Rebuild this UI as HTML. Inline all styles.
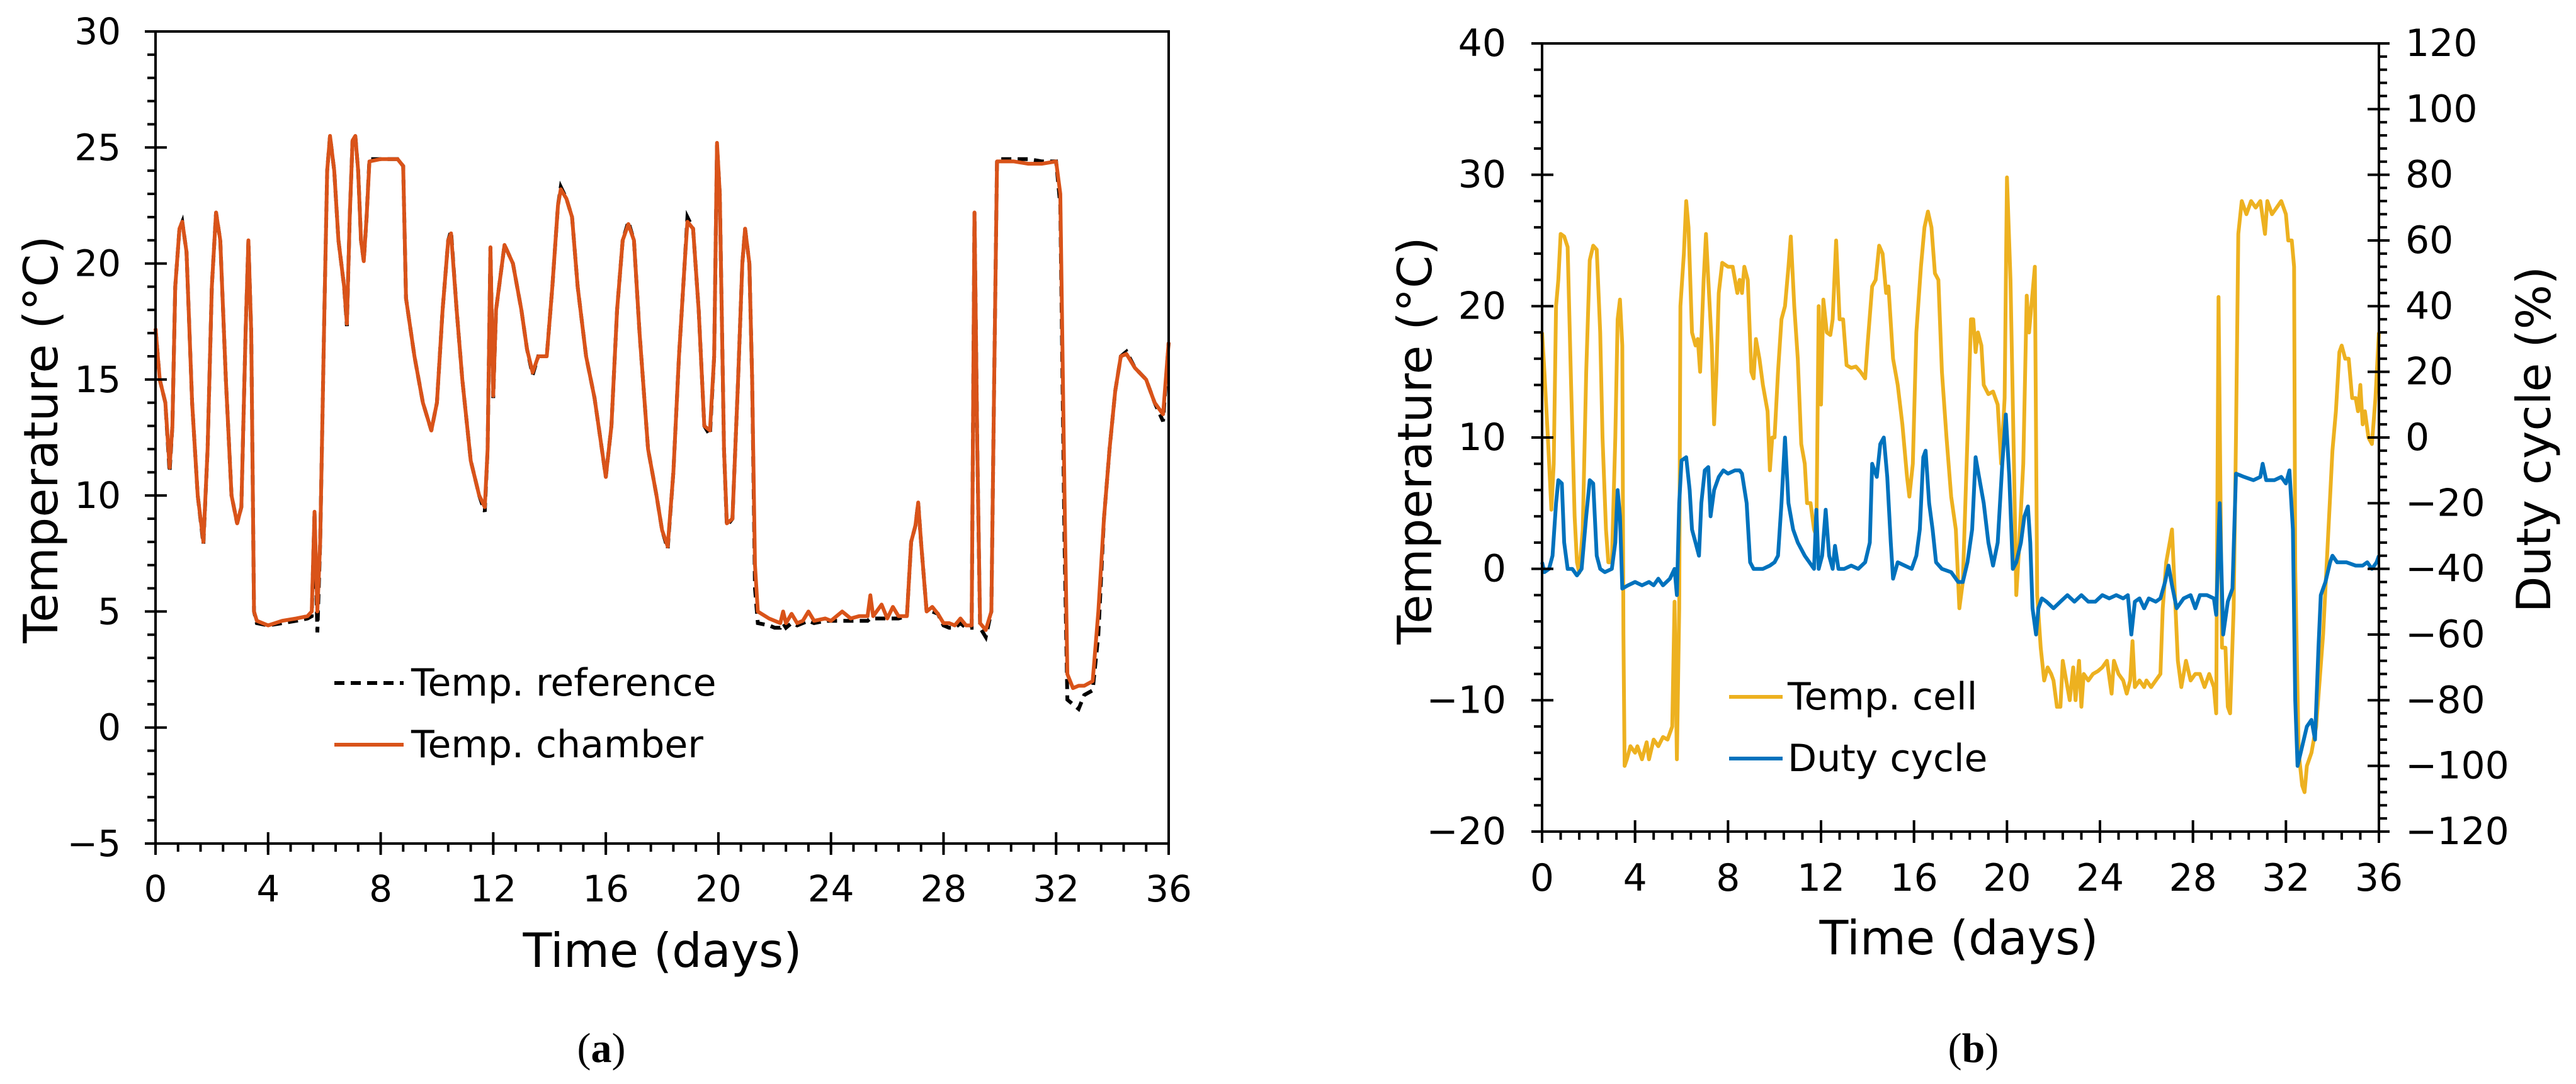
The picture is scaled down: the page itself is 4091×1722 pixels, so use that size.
<!DOCTYPE html>
<html><head><meta charset="utf-8"><style>
html,body{margin:0;padding:0;background:#fff;}
svg{display:block;font-family:"DejaVu Sans","Liberation Sans",sans-serif;}
</style></head><body>
<svg id="fig" width="4091" height="1722" viewBox="0 0 4091 1722" xmlns="http://www.w3.org/2000/svg">
<rect width="4091" height="1722" fill="#fff"/>
<g id="pa"></g>
<g id="pb"></g>
<text x="65" y="698" font-size="75" text-anchor="middle" dominant-baseline="central" transform="rotate(-90 65 698)">Temperature (°C)</text>
<text x="1052" y="1510" font-size="75" text-anchor="middle" dominant-baseline="central">Time (days)</text>
<text x="955" y="1665" font-size="66" text-anchor="middle" dominant-baseline="central" font-family="Liberation Serif, serif">(<tspan font-weight="bold">a</tspan>)</text>
<text x="2247" y="700" font-size="75" text-anchor="middle" dominant-baseline="central" transform="rotate(-90 2247 700)">Temperature (°C)</text>
<text x="4024" y="698" font-size="75" text-anchor="middle" dominant-baseline="central" transform="rotate(-90 4024 698)">Duty cycle (%)</text>
<text x="3111" y="1490" font-size="75" text-anchor="middle" dominant-baseline="central">Time (days)</text>
<text x="3134" y="1665" font-size="66" text-anchor="middle" dominant-baseline="central" font-family="Liberation Serif, serif">(<tspan font-weight="bold">b</tspan>)</text>
</svg>
<script>
const xTicks=[0,4,8,12,16,20,24,28,32,36];
const yTicksA=[-5,0,5,10,15,20,25,30];
const yTicksB=[-20,-10,0,10,20,30,40];
const y2TicksB=[-120,-100,-80,-60,-40,-20,0,20,40,60,80,100,120];
const chamberT=[0,0.15,0.35,0.5,0.6,0.7,0.85,0.95,1.1,1.3,1.5,1.7,1.85,2.0,2.15,2.3,2.5,2.7,2.9,3.05,3.2,3.3,3.4,3.5,3.6,4.0,4.5,5.0,5.4,5.55,5.65,5.75,5.85,6.0,6.1,6.2,6.35,6.5,6.7,6.8,6.9,7.0,7.1,7.2,7.3,7.4,7.5,7.6,8.0,8.6,8.8,8.9,9.2,9.5,9.8,10.0,10.2,10.4,10.5,10.7,10.9,11.2,11.5,11.7,11.8,11.9,12.0,12.1,12.4,12.7,13.0,13.2,13.4,13.6,13.9,14.1,14.3,14.4,14.6,14.8,15.0,15.3,15.6,15.8,16.0,16.2,16.4,16.6,16.8,17.0,17.2,17.5,17.8,18.0,18.2,18.4,18.6,18.8,18.9,19.1,19.3,19.5,19.7,19.85,19.95,20.05,20.2,20.3,20.5,20.7,20.85,20.95,21.1,21.2,21.3,21.4,21.8,22.0,22.2,22.3,22.4,22.6,22.8,23.0,23.2,23.4,23.8,24.0,24.4,24.7,25.0,25.3,25.4,25.5,25.8,26.0,26.2,26.4,26.7,26.85,27.0,27.1,27.2,27.4,27.6,27.8,28.0,28.2,28.4,28.6,28.8,29.0,29.1,29.2,29.3,29.5,29.7,29.8,29.9,30.5,31,31.5,32.0,32.15,32.3,32.4,32.6,32.8,33.0,33.3,33.5,33.7,33.9,34.1,34.3,34.5,34.8,35.2,35.5,35.8,36];
const chamberV=[17.2,15,14,11.2,13,19,21.5,21.8,20.5,14,10,8,12,19,22.2,21,15,10,8.8,9.5,17,21,17,5,4.6,4.4,4.6,4.7,4.8,5,9.3,5,8,18,24,25.5,24,21,19,17.4,22,25.3,25.5,24,21,20.1,22,24.4,24.5,24.5,24.2,18.5,16,14,12.8,14,18,21,21.3,18,15,11.5,10,9.5,12,20.7,14.3,18,20.8,20,18,16.3,15.3,16,16,19,22.5,23.2,22.8,22,19,16,14.2,12.5,10.8,13,18,21,21.7,21,17,12,10,8.5,7.8,11,16,20,21.8,21.5,18,13,12.8,16,25.2,23,12,8.8,9,15,20,21.5,20,15,7,5,4.7,4.6,4.5,5,4.5,4.9,4.5,4.6,5,4.6,4.7,4.6,5,4.7,4.8,4.8,5.7,4.8,5.3,4.7,5.2,4.8,4.8,8,8.7,9.7,8,5,5.2,4.9,4.5,4.5,4.4,4.7,4.4,4.4,22.2,12,4.5,4.2,5,15,24.4,24.4,24.3,24.3,24.4,23,10,2.3,1.7,1.8,1.8,2,5,9,12,14.5,16,16.1,15.5,15,14,13.5,16.6];
const refV=[17.2,15,14,11,13,19,21.5,21.8,20.5,14,10,7.9,12,19,22.2,21,15,10,8.8,9.5,17,21,17,5,4.5,4.4,4.5,4.6,4.7,4.8,9.3,4.1,8,18,24,25.5,24,21,19,17.3,22,25.3,25.5,24,21,20.1,22,24.5,24.5,24.5,24.2,18.5,16,14,12.8,14,18,21,21.4,18,15,11.5,10,9.3,12,20.7,14.2,18,20.8,20,18,16.3,15.2,16,16,19,22.5,23.3,22.8,22,19,16,14.2,12.5,10.8,13,18,21,21.8,21,17,12,10,8.5,7.7,11,16,20,22,21.5,18,13,12.6,16,25.1,23,12,8.7,9,15,20,21.5,20,15,6,4.5,4.4,4.3,4.3,4.5,4.3,4.5,4.4,4.5,4.6,4.5,4.6,4.6,4.6,4.6,4.6,4.6,4.7,4.7,4.7,4.7,4.7,4.7,4.8,8,8.7,9.7,8,5,5,4.9,4.4,4.3,4.3,4.5,4.3,4.3,22.2,12,4.3,3.9,5,15,24.5,24.5,24.5,24.4,24.4,22.5,8,1.2,1.0,0.8,1.4,1.6,4,9,12,14.5,16,16.2,15.5,15,14,13.2,16.6];
const cellT=[0,0.1,0.25,0.4,0.5,0.6,0.7,0.8,0.95,1.1,1.25,1.4,1.5,1.6,1.75,1.9,2.05,2.2,2.35,2.5,2.6,2.75,2.85,3.0,3.15,3.25,3.35,3.45,3.5,3.55,3.65,3.8,4.0,4.1,4.3,4.5,4.6,4.8,5.0,5.2,5.4,5.6,5.7,5.8,5.9,5.95,6.1,6.2,6.3,6.45,6.6,6.7,6.8,6.95,7.05,7.15,7.3,7.4,7.5,7.6,7.75,8.0,8.2,8.4,8.5,8.6,8.7,8.85,9.0,9.1,9.2,9.35,9.5,9.7,9.8,9.9,10.0,10.15,10.3,10.45,10.6,10.7,10.85,11.0,11.15,11.3,11.4,11.55,11.7,11.8,11.9,12.0,12.1,12.25,12.4,12.5,12.65,12.8,12.95,13.1,13.3,13.5,13.7,13.9,14.0,14.2,14.35,14.5,14.65,14.8,14.9,15.1,15.3,15.5,15.7,15.8,15.95,16.1,16.3,16.45,16.6,16.75,16.9,17.05,17.2,17.4,17.6,17.8,17.95,18.1,18.3,18.45,18.55,18.65,18.75,18.9,19.0,19.2,19.4,19.6,19.75,19.9,20.0,20.15,20.3,20.4,20.5,20.7,20.85,20.95,21.1,21.2,21.3,21.45,21.6,21.75,21.9,22.0,22.15,22.3,22.4,22.5,22.7,22.85,22.95,23.1,23.2,23.3,23.5,23.7,23.9,24.1,24.3,24.5,24.6,24.8,25.0,25.15,25.3,25.4,25.5,25.7,25.9,26.0,26.2,26.4,26.6,26.7,26.85,27.0,27.1,27.2,27.35,27.5,27.7,27.9,28.1,28.3,28.5,28.7,28.9,29.0,29.1,29.25,29.4,29.5,29.6,29.75,29.85,29.95,30.1,30.3,30.5,30.7,30.9,31.1,31.2,31.4,31.6,31.8,32.0,32.1,32.25,32.35,32.4,32.55,32.7,32.8,32.9,33.1,33.3,33.6,33.8,34.0,34.15,34.3,34.4,34.55,34.7,34.85,35.0,35.1,35.2,35.3,35.4,35.55,35.7,35.85,36];
const cellV=[18,15,10,4.5,8,20,22,25.5,25.3,24.5,14,4,0.5,-0.3,3,15,23.5,24.6,24.3,18,10,3,0.5,0.5,10,19,20.5,17,-5,-15,-14.5,-13.5,-14,-13.5,-14.5,-13.2,-14.5,-13,-13.5,-12.8,-13,-12,-2.5,-14.5,-3,20,24,28,26,18,17,17.5,15,22,25.5,22,17,11,15,21,23.3,23,23,21,22,21,23,22,15,14.5,17.5,16,14,12,7.5,10,10,15,19,20,23,25.3,20,16,9.5,8,5,5,3,2.5,20,12.5,20.5,18,17.8,19,25,19,19,15.5,15.3,15.4,15,14.5,17,21.5,22,24.6,24,21,21.5,16,14,11,7,5.5,8,18,23,26,27.2,26,22.5,22,15,10,5.5,3,-3,-1,10,19,19,16.5,18,17,14,13.3,13.5,12.5,8,13,29.8,22,8,-2,1,8,20.8,18,21,23,-2,-6,-8.5,-7.5,-8,-8.5,-10.5,-10.5,-7,-8,-10,-7.5,-10,-7,-10.5,-8,-8.5,-8,-7.8,-7.5,-7,-9.5,-7,-8,-8.5,-9.5,-8.5,-5.5,-9,-8.5,-9,-8.5,-9,-8.5,-8,-3,0.5,2,3,-1,-7,-9,-7,-8.5,-8,-8,-9,-8,-9,-11,20.7,-6,-6,-10.5,-11,-3,10,25.5,28,27,28,27.5,28,25.5,28,27,27.5,28,27,25,25,23,0,-14,-16.5,-17,-15,-14,-12,-5,2,9,12,16.5,17,16,16,13,13,12,14,11,12,10,9.5,13,18];
const dutyT=[0,0.1,0.3,0.45,0.6,0.7,0.85,0.95,1.1,1.3,1.5,1.7,1.9,2.05,2.2,2.35,2.5,2.7,3.0,3.15,3.25,3.35,3.45,3.7,4.0,4.3,4.6,4.8,5.0,5.2,5.5,5.7,5.8,5.9,6.0,6.2,6.35,6.45,6.6,6.75,6.85,7.0,7.15,7.25,7.4,7.6,7.8,8.0,8.3,8.5,8.6,8.8,8.95,9.1,9.5,9.8,10.0,10.15,10.3,10.45,10.6,10.8,11.0,11.3,11.5,11.7,11.8,11.9,12.05,12.2,12.35,12.5,12.6,12.75,13.0,13.3,13.6,13.9,14.1,14.2,14.4,14.55,14.7,14.85,15.0,15.1,15.3,15.6,15.9,16.1,16.25,16.4,16.5,16.65,16.8,16.95,17.2,17.6,17.9,18.1,18.3,18.5,18.65,18.8,19.0,19.2,19.4,19.6,19.8,19.95,20.1,20.25,20.4,20.6,20.75,20.9,21.0,21.1,21.25,21.35,21.5,21.7,22.0,22.3,22.6,22.9,23.2,23.5,23.8,24.1,24.4,24.7,25.0,25.2,25.35,25.5,25.7,25.9,26.1,26.4,26.6,26.8,26.95,27.1,27.3,27.6,27.9,28.1,28.3,28.6,28.9,29.0,29.15,29.3,29.5,29.7,29.85,30.2,30.6,30.9,31.0,31.15,31.5,31.8,32.0,32.15,32.3,32.4,32.5,32.7,32.9,33.1,33.25,33.4,33.5,33.7,33.9,34.0,34.2,34.6,35.0,35.3,35.5,35.7,35.9,36];
const dutyV=[-38,-41,-40,-36,-20,-13,-14,-32,-40,-40,-42,-40,-24,-13,-14,-36,-40,-41,-40,-32,-16,-24,-46,-45,-44,-45,-44,-45,-43,-45,-43,-40,-48,-20,-7,-6,-16,-28,-32,-36,-20,-10,-9,-24,-16,-12,-10,-11,-10,-10,-11,-20,-38,-40,-40,-39,-38,-36,-20,0,-20,-28,-32,-36,-38,-40,-22,-40,-36,-22,-36,-40,-33,-40,-40,-39,-40,-38,-32,-8,-12,-2,0,-12,-32,-43,-38,-39,-40,-36,-28,-6,-4,-20,-28,-38,-40,-41,-44,-44,-38,-28,-6,-12,-20,-32,-39,-32,-8,7,-12,-40,-38,-32,-24,-21,-32,-52,-60,-52,-49,-50,-52,-50,-48,-50,-48,-50,-50,-48,-49,-48,-49,-48,-60,-50,-49,-52,-49,-50,-49,-44,-39,-45,-52,-49,-48,-52,-48,-48,-49,-54,-20,-60,-50,-46,-11,-12,-13,-12,-8,-13,-13,-12,-14,-10,-28,-80,-100,-94,-88,-86,-92,-64,-48,-44,-38,-36,-38,-38,-39,-39,-38,-40,-38,-36];

const NS='http://www.w3.org/2000/svg';
function mk(parent,tag,attrs){const e=document.createElementNS(NS,tag);for(const k in attrs)e.setAttribute(k,attrs[k]);parent.appendChild(e);return e;}
function scale(d0,d1,r0,r1){return v=>r0+(v-d0)*(r1-r0)/(d1-d0);}
function pathD(xs,ys,sx,sy){const n=Math.min(xs.length,ys.length);let s='';for(let i=0;i<n;i++)s+=(i?'L':'M')+sx(xs[i]).toFixed(1)+' '+sy(ys[i]).toFixed(1)+' ';return s;}

// Panel A
const A={l:247,r:1856,t:50,b:1340};
const axA=scale(0,36,A.l,A.r), ayA=scale(-5,30,A.b,A.t);
const pa=document.getElementById('pa');
let e;
e=mk(pa,'path',{d:pathD(chamberT,refV,axA,ayA),fill:'none',stroke:'#000',"stroke-width":6,"stroke-dasharray":"16 10"});


e=mk(pa,'path',{d:pathD(chamberT,chamberV,axA,ayA),fill:'none',stroke:'#D95319',"stroke-width":6,"stroke-linejoin":"round"});


e=mk(pa,'rect',{x:A.l,y:A.t,width:A.r-A.l,height:A.b-A.t,fill:'none',stroke:'#000',"stroke-width":4});


for(let v=-5;v<=30;v+=1){const y=ayA(v);const maj=(v%5===0);mk(pa,'line',{x1:A.l-(maj?17:13),x2:A.l+(maj?18:0),y1:y,y2:y,stroke:'#000',"stroke-width":4});}
yTicksA.forEach(v=>{e=mk(pa,'text',{x:A.l-55,y:ayA(v),"font-size":58,"text-anchor":"end","dominant-baseline":"central"});e.textContent=String(v).replace('-','\u2212');

});
for(let v=0;v<=36.01;v+=0.8){const x=axA(v);mk(pa,'line',{x1:x,x2:x,y1:A.b,y2:A.b+13,stroke:'#000',"stroke-width":4});}
xTicks.forEach(v=>{const x=axA(v);mk(pa,'line',{x1:x,x2:x,y1:A.b-18,y2:A.b+18,stroke:'#000',"stroke-width":4});
e=mk(pa,'text',{x:x,y:1412,"font-size":58,"text-anchor":"middle","dominant-baseline":"central"});e.textContent=v;

});
e=mk(pa,'line',{x1:531,x2:641,y1:1085,y2:1085,stroke:'#000',"stroke-width":6,"stroke-dasharray":"16 10"});


e=mk(pa,'text',{x:653,y:1085,"font-size":60,"dominant-baseline":"central"});e.textContent='Temp. reference';


e=mk(pa,'line',{x1:531,x2:641,y1:1183,y2:1183,stroke:'#D95319',"stroke-width":6});


e=mk(pa,'text',{x:653,y:1183,"font-size":60,"dominant-baseline":"central"});e.textContent='Temp. chamber';



// Panel B
const B={l:2449,r:3778,t:69,b:1321};
const axB=scale(0,36,B.l,B.r), ayB=scale(-20,40,B.b,B.t), ay2B=scale(-120,120,B.b,B.t);
const pb=document.getElementById('pb');
e=mk(pb,'path',{d:pathD(cellT,cellV,axB,ayB),fill:'none',stroke:'#EDB120',"stroke-width":6,"stroke-linejoin":"round"});


e=mk(pb,'path',{d:pathD(dutyT,dutyV,axB,ay2B),fill:'none',stroke:'#0072BD',"stroke-width":6,"stroke-linejoin":"round"});


e=mk(pb,'rect',{x:B.l,y:B.t,width:B.r-B.l,height:B.b-B.t,fill:'none',stroke:'#000',"stroke-width":4});


for(let v=-20;v<=40;v+=2){const y=ayB(v);const maj=(v%10===0);mk(pb,'line',{x1:B.l-(maj?17:13),x2:B.l+(maj?18:0),y1:y,y2:y,stroke:'#000',"stroke-width":4});}
yTicksB.forEach(v=>{e=mk(pb,'text',{x:B.l-57,y:ayB(v),"font-size":60,"text-anchor":"end","dominant-baseline":"central"});e.textContent=String(v).replace('-','\u2212');

});
for(let v=-120;v<=120;v+=4){const y=ay2B(v);const maj=(v%20===0);mk(pb,'line',{x1:B.r-(maj?18:0),x2:B.r+(maj?17:13),y1:y,y2:y,stroke:'#000',"stroke-width":4});}
y2TicksB.forEach(v=>{e=mk(pb,'text',{x:3820,y:ay2B(v),"font-size":60,"text-anchor":"start","dominant-baseline":"central"});e.textContent=String(v).replace('-','\u2212');

});
for(let v=0;v<=36.01;v+=0.8){const x=axB(v);mk(pb,'line',{x1:x,x2:x,y1:B.b,y2:B.b+13,stroke:'#000',"stroke-width":4});}
xTicks.forEach(v=>{const x=axB(v);mk(pb,'line',{x1:x,x2:x,y1:B.b-18,y2:B.b+18,stroke:'#000',"stroke-width":4});
e=mk(pb,'text',{x:x,y:1395,"font-size":60,"text-anchor":"middle","dominant-baseline":"central"});e.textContent=v;

});
e=mk(pb,'line',{x1:2746,x2:2831,y1:1107,y2:1107,stroke:'#EDB120',"stroke-width":6});


e=mk(pb,'text',{x:2839,y:1107,"font-size":60,"dominant-baseline":"central"});e.textContent='Temp. cell';


e=mk(pb,'line',{x1:2746,x2:2831,y1:1205,y2:1205,stroke:'#0072BD',"stroke-width":6});


e=mk(pb,'text',{x:2839,y:1205,"font-size":60,"dominant-baseline":"central"});e.textContent='Duty cycle';


</script>
</body></html>
